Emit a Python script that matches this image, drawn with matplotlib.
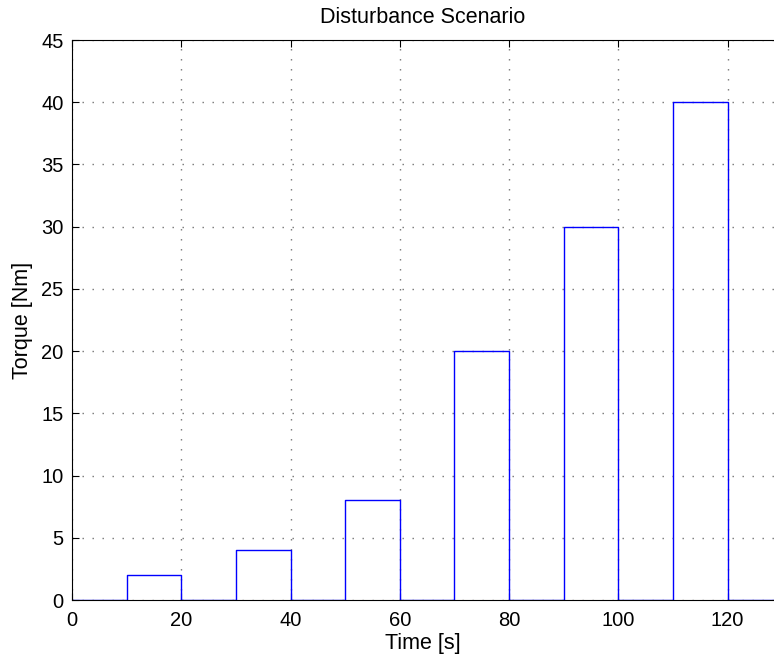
import numpy as np
import matplotlib
matplotlib.use("Agg")
import matplotlib.pyplot as plt
from matplotlib.ticker import MultipleLocator

# disturbance torque profile (step changes)
t_edges = [0, 10, 20, 30, 40, 50, 60, 70, 80, 90, 100, 110, 120, 130]
torque = [0, 2, 0, 4, 0, 8, 0, 20, 0, 30, 0, 40, 0, 0]

plt.rcParams['font.family'] = ['Liberation Sans', 'DejaVu Sans']
plt.rcParams['lines.scale_dashes'] = False

fig = plt.figure(figsize=(7.74, 6.58), dpi=100)
ax = fig.add_axes([72/774, 58/658, 1 - 72/774, 560/658])

ax.step(t_edges, torque, where='post', color='blue', linewidth=1.0)

ax.set_xlim(0, 128.5)
ax.set_ylim(0, 45)
ax.xaxis.set_major_locator(MultipleLocator(20))
ax.yaxis.set_major_locator(MultipleLocator(5))
ax.grid(True, linestyle=(0, (1.0, 6.2)), color='black', linewidth=1.0, alpha=0.55)
ax.tick_params(direction='in', top=True, right=False, labelsize=14.5, length=5)
ax.tick_params(axis='x', pad=8)
ax.tick_params(axis='y', pad=6)
ax.spines['right'].set_visible(False)
ax.set_xlabel('Time [s]', fontsize=15.5, labelpad=2)
ax.set_ylabel('Torque [Nm]', fontsize=15.5, labelpad=6)
ax.set_title('Disturbance Scenario', fontsize=15.5, pad=12)

fig.savefig('out.png', dpi=100)
